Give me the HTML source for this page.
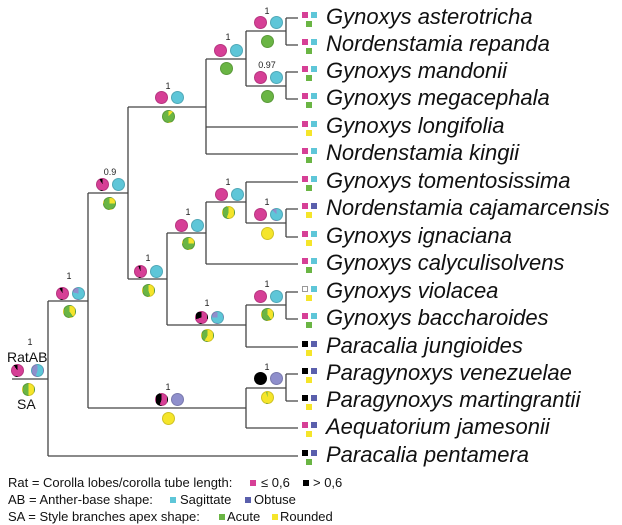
<!DOCTYPE html>
<html><head><meta charset="utf-8">
<style>
html,body{margin:0;padding:0;background:#fff;}
#c{position:relative;width:622px;height:525px;overflow:hidden;font-family:"Liberation Sans",sans-serif;}
.p{position:absolute;width:13px;height:13px;border-radius:50%;box-sizing:border-box;border:0.5px solid rgba(0,0,0,0.15);}
.s{position:absolute;width:6px;height:6px;}
.t{position:absolute;font-style:italic;font-size:22px;color:#111;white-space:nowrap;line-height:1;}
.n{position:absolute;font-size:9px;color:#222;transform:translateX(-50%);line-height:1;}
.l{position:absolute;font-size:13px;color:#111;white-space:nowrap;line-height:1;}
</style></head><body><div id="c">
<svg width="622" height="525" style="position:absolute;left:0;top:0" fill="none" stroke="#444" stroke-width="1.3">
<path d="M286 18H298M286 45H298M286 72H298M286 99H298M206 127H298M206 154H298M246 182H298M286 209H298M286 237H298M206 264H298M286 292H298M286 319H298M246 347H298M286 374H298M286 401H298M246 428H298M48 456H298"/>
<path d="M286 18V45M246 31H286M286 72V99M246 86H286M246 31V86M206 59H246M206 59V154M128 107H206M128 107V279M88 193H128"/>
<path d="M286 209V237M246 223H286M246 182V223M206 202H246M206 202V264M167 233H206M167 233V325M128 279H167M286 292V319M246 305H286M246 305V347M167 325H246"/>
<path d="M88 193V408M48 301H88M286 374V401M246 388H286M246 388V428M88 408H246M48 301V456M12 379H48"/>
</svg>
<div class="n" style="left:267px;top:7px">1</div>
<div class="n" style="left:267px;top:61px">0.97</div>
<div class="n" style="left:228px;top:33px">1</div>
<div class="n" style="left:168px;top:82px">1</div>
<div class="n" style="left:110px;top:168px">0.9</div>
<div class="n" style="left:267px;top:198px">1</div>
<div class="n" style="left:228px;top:178px">1</div>
<div class="n" style="left:188px;top:208px">1</div>
<div class="n" style="left:148px;top:254px">1</div>
<div class="n" style="left:207px;top:299px">1</div>
<div class="n" style="left:267px;top:280px">1</div>
<div class="n" style="left:69px;top:272px">1</div>
<div class="n" style="left:168px;top:383px">1</div>
<div class="n" style="left:267px;top:363px">1</div>
<div class="n" style="left:30px;top:338px">1</div>
<div class="l" style="left:7px;top:350px;font-size:14px">RatAB</div>
<div class="l" style="left:17px;top:397px;font-size:14px">SA</div>
<div style="position:absolute;left:0;top:0">
<div class="p" style="left:254px;top:16px;background:#d63f96"></div><div class="p" style="left:270px;top:16px;background:#5ec6d8"></div><div class="p" style="left:261px;top:35px;background:#6ab544"></div>
<div class="p" style="left:254px;top:71px;background:#d63f96"></div><div class="p" style="left:270px;top:71px;background:#5ec6d8"></div><div class="p" style="left:261px;top:90px;background:#6ab544"></div>
<div class="p" style="left:214px;top:44px;background:#d63f96"></div><div class="p" style="left:230px;top:44px;background:#5ec6d8"></div><div class="p" style="left:220px;top:62px;background:#6ab544"></div>
<div class="p" style="left:155px;top:91px;background:#d63f96"></div><div class="p" style="left:171px;top:91px;background:#5ec6d8"></div><div class="p" style="left:162px;top:110px;background:conic-gradient(#f5e52a 0 12%,#6ab544 12% 100%)"></div>
<div class="p" style="left:96px;top:178px;background:conic-gradient(#d63f96 0 92%,#000 92% 100%)"></div><div class="p" style="left:112px;top:178px;background:#5ec6d8"></div><div class="p" style="left:103px;top:197px;background:conic-gradient(#f5e52a 0 25%,#6ab544 25% 100%)"></div>
<div class="p" style="left:254px;top:208px;background:#d63f96"></div><div class="p" style="left:270px;top:208px;background:conic-gradient(#5ec6d8 0 88%,#8f8fcc 88% 100%)"></div><div class="p" style="left:261px;top:227px;background:#f5e52a"></div>
<div class="p" style="left:215px;top:188px;background:#d63f96"></div><div class="p" style="left:231px;top:188px;background:#5ec6d8"></div><div class="p" style="left:222px;top:206px;background:conic-gradient(#f5e52a 0 55%,#6ab544 55% 100%)"></div>
<div class="p" style="left:175px;top:219px;background:#d63f96"></div><div class="p" style="left:191px;top:219px;background:#5ec6d8"></div><div class="p" style="left:182px;top:237px;background:conic-gradient(#f5e52a 0 25%,#6ab544 25% 100%)"></div>
<div class="p" style="left:134px;top:265px;background:conic-gradient(#d63f96 0 94%,#000 94% 100%)"></div><div class="p" style="left:150px;top:265px;background:#5ec6d8"></div><div class="p" style="left:142px;top:284px;background:conic-gradient(#f5e52a 0 45%,#6ab544 45% 100%)"></div>
<div class="p" style="left:195px;top:311px;background:conic-gradient(#d63f96 0 70%,#000 70% 100%)"></div><div class="p" style="left:211px;top:311px;background:conic-gradient(#5ec6d8 0 75%,#8f8fcc 75% 100%)"></div><div class="p" style="left:201px;top:329px;background:conic-gradient(#f5e52a 0 58%,#6ab544 58% 100%)"></div>
<div class="p" style="left:254px;top:290px;background:#d63f96"></div><div class="p" style="left:270px;top:290px;background:#5ec6d8"></div><div class="p" style="left:261px;top:308px;background:conic-gradient(#f5e52a 0 40%,#6ab544 40% 100%)"></div>
<div class="p" style="left:56px;top:287px;background:conic-gradient(#d63f96 0 92%,#000 92% 100%)"></div><div class="p" style="left:72px;top:287px;background:conic-gradient(#5ec6d8 0 78%,#8f8fcc 78% 100%)"></div><div class="p" style="left:63px;top:305px;background:conic-gradient(#f5e52a 0 40%,#6ab544 40% 100%)"></div>
<div class="p" style="left:155px;top:393px;background:conic-gradient(#d63f96 0 55%,#000 55% 100%)"></div><div class="p" style="left:171px;top:393px;background:#8f8fcc"></div><div class="p" style="left:162px;top:412px;background:#f5e52a"></div>
<div class="p" style="left:254px;top:372px;background:#000"></div><div class="p" style="left:270px;top:372px;background:#8f8fcc"></div><div class="p" style="left:261px;top:391px;background:conic-gradient(#f5e52a 0 96%,#6ab544 96% 100%)"></div>
<div class="p" style="left:11px;top:364px;background:conic-gradient(#d63f96 0 90%,#000 90% 100%)"></div><div class="p" style="left:31px;top:364px;background:conic-gradient(#5ec6d8 0 55%,#8f8fcc 55% 100%)"></div><div class="p" style="left:22px;top:383px;background:conic-gradient(#f5e52a 0 50%,#6ab544 50% 100%)"></div>
</div>
<div style="position:absolute;left:0;top:0">
<div class="s" style="left:302px;top:12px;background:#d63f96"></div><div class="s" style="left:311px;top:12px;background:#5ec6d8"></div><div class="s" style="left:306px;top:21px;background:#6ab544"></div>
<div class="s" style="left:302px;top:39px;background:#d63f96"></div><div class="s" style="left:311px;top:39px;background:#5ec6d8"></div><div class="s" style="left:306px;top:48px;background:#6ab544"></div>
<div class="s" style="left:302px;top:66px;background:#d63f96"></div><div class="s" style="left:311px;top:66px;background:#5ec6d8"></div><div class="s" style="left:306px;top:75px;background:#6ab544"></div>
<div class="s" style="left:302px;top:93px;background:#d63f96"></div><div class="s" style="left:311px;top:93px;background:#5ec6d8"></div><div class="s" style="left:306px;top:102px;background:#6ab544"></div>
<div class="s" style="left:302px;top:121px;background:#d63f96"></div><div class="s" style="left:311px;top:121px;background:#5ec6d8"></div><div class="s" style="left:306px;top:130px;background:#f5e52a"></div>
<div class="s" style="left:302px;top:148px;background:#d63f96"></div><div class="s" style="left:311px;top:148px;background:#5ec6d8"></div><div class="s" style="left:306px;top:157px;background:#6ab544"></div>
<div class="s" style="left:302px;top:176px;background:#d63f96"></div><div class="s" style="left:311px;top:176px;background:#5ec6d8"></div><div class="s" style="left:306px;top:185px;background:#6ab544"></div>
<div class="s" style="left:302px;top:203px;background:#d63f96"></div><div class="s" style="left:311px;top:203px;background:#5a5fac"></div><div class="s" style="left:306px;top:212px;background:#f5e52a"></div>
<div class="s" style="left:302px;top:231px;background:#d63f96"></div><div class="s" style="left:311px;top:231px;background:#5ec6d8"></div><div class="s" style="left:306px;top:240px;background:#f5e52a"></div>
<div class="s" style="left:302px;top:258px;background:#d63f96"></div><div class="s" style="left:311px;top:258px;background:#5ec6d8"></div><div class="s" style="left:306px;top:267px;background:#6ab544"></div>
<div class="s" style="left:302px;top:286px;background:#fff;border:1px solid #999;box-sizing:border-box"></div><div class="s" style="left:311px;top:286px;background:#5ec6d8"></div><div class="s" style="left:306px;top:295px;background:#f5e52a"></div>
<div class="s" style="left:302px;top:313px;background:#d63f96"></div><div class="s" style="left:311px;top:313px;background:#5ec6d8"></div><div class="s" style="left:306px;top:322px;background:#6ab544"></div>
<div class="s" style="left:302px;top:341px;background:#000"></div><div class="s" style="left:311px;top:341px;background:#5a5fac"></div><div class="s" style="left:306px;top:350px;background:#f5e52a"></div>
<div class="s" style="left:302px;top:368px;background:#000"></div><div class="s" style="left:311px;top:368px;background:#5a5fac"></div><div class="s" style="left:306px;top:377px;background:#f5e52a"></div>
<div class="s" style="left:302px;top:395px;background:#000"></div><div class="s" style="left:311px;top:395px;background:#5a5fac"></div><div class="s" style="left:306px;top:404px;background:#f5e52a"></div>
<div class="s" style="left:302px;top:422px;background:#d63f96"></div><div class="s" style="left:311px;top:422px;background:#5a5fac"></div><div class="s" style="left:306px;top:431px;background:#f5e52a"></div>
<div class="s" style="left:302px;top:450px;background:#000"></div><div class="s" style="left:311px;top:450px;background:#5a5fac"></div><div class="s" style="left:306px;top:459px;background:#6ab544"></div>
</div>
<div class="t" style="left:326px;top:6px">Gynoxys asterotricha</div>
<div class="t" style="left:326px;top:33px">Nordenstamia repanda</div>
<div class="t" style="left:326px;top:60px">Gynoxys mandonii</div>
<div class="t" style="left:326px;top:87px">Gynoxys megacephala</div>
<div class="t" style="left:326px;top:115px">Gynoxys longifolia</div>
<div class="t" style="left:326px;top:142px">Nordenstamia kingii</div>
<div class="t" style="left:326px;top:170px">Gynoxys tomentosissima</div>
<div class="t" style="left:326px;top:197px">Nordenstamia cajamarcensis</div>
<div class="t" style="left:326px;top:225px">Gynoxys ignaciana</div>
<div class="t" style="left:326px;top:252px">Gynoxys calyculisolvens</div>
<div class="t" style="left:326px;top:280px">Gynoxys violacea</div>
<div class="t" style="left:326px;top:307px">Gynoxys baccharoides</div>
<div class="t" style="left:326px;top:335px">Paracalia jungioides</div>
<div class="t" style="left:326px;top:362px">Paragynoxys venezuelae</div>
<div class="t" style="left:326px;top:389px">Paragynoxys martingrantii</div>
<div class="t" style="left:326px;top:416px">Aequatorium jamesonii</div>
<div class="t" style="left:326px;top:444px">Paracalia pentamera</div>
<div class="l" style="left:8px;top:476px">Rat = Corolla lobes/corolla tube length:</div>
<div class="s" style="left:250px;top:480px;background:#d63f96"></div><div class="l" style="left:261px;top:476px">≤ 0,6</div>
<div class="s" style="left:303px;top:480px;background:#000"></div><div class="l" style="left:313px;top:476px">&gt; 0,6</div>
<div class="l" style="left:8px;top:493px">AB = Anther-base shape:</div>
<div class="s" style="left:170px;top:497px;background:#5ec6d8"></div><div class="l" style="left:180px;top:493px">Sagittate</div>
<div class="s" style="left:245px;top:497px;background:#5a5fac"></div><div class="l" style="left:254px;top:493px">Obtuse</div>
<div class="l" style="left:8px;top:510px">SA = Style branches apex shape:</div>
<div class="s" style="left:219px;top:514px;background:#6ab544"></div><div class="l" style="left:227px;top:510px">Acute</div>
<div class="s" style="left:272px;top:514px;background:#f5e52a"></div><div class="l" style="left:280px;top:510px">Rounded</div>
</div></body></html>
